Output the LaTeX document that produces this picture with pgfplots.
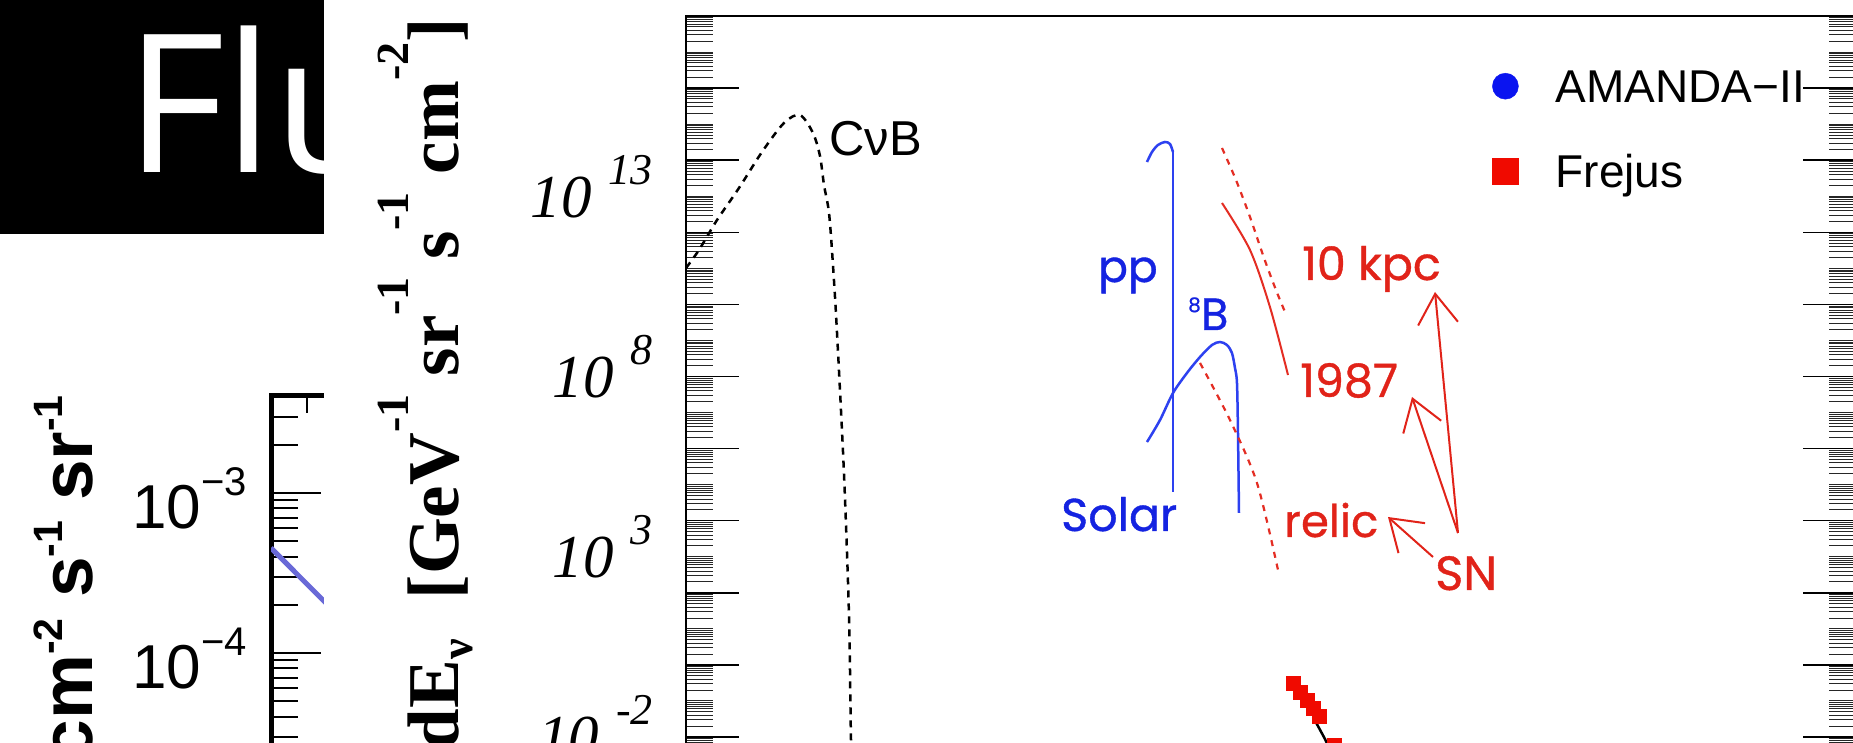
\documentclass[border=0pt]{standalone}
\usepackage{fontspec}
\setmainfont{Liberation Serif}
\newfontfamily\arialf{Liberation Sans}
\newfontfamily\avantf{Poppins}[FakeBold=0.8]
\newfontfamily\openf{Open Sans}
\usepackage{pgfplots}
\pgfplotsset{compat=1.18}
\usetikzlibrary{arrows.meta}

\definecolor{sbblue}{RGB}{105,105,215}
\definecolor{txtblue}{RGB}{20,35,225}
\definecolor{lnblue}{RGB}{45,65,240}
\definecolor{txtred}{RGB}{225,35,25}
\definecolor{lnred}{RGB}{228,45,35}
\definecolor{ptred}{RGB}{240,10,0}
\definecolor{ptblue}{RGB}{10,20,240}

% minor tick lists (ticks only, not data)
\def\mainminor{1e-4}
\foreach \e in {-4,...,18}{\foreach \m in {2,...,9}{\xdef\mainminor{\mainminor,\m e\e}}\xdef\mainminor{\mainminor,1e\e}}
\def\smallminor{1e-6}
\foreach \e in {-6,...,-3}{\foreach \m in {2,...,9}{\xdef\smallminor{\smallminor,\m e\e}}}

\pgfplotsset{bigmarkimg/.style={legend image code/.code={\path (0pt,0pt) (63pt,0pt); \draw[##1, mark size=13pt] plot coordinates {(13pt,3.5pt)};}}}

\newcommand\mlab[1]{{\fontsize{61}{61}\selectfont\itshape 10\hspace{17pt}\raisebox{33pt}{\fontsize{44}{44}\selectfont #1}}}
\newcommand\slab[1]{{\arialf\fontsize{62}{62}\selectfont 10\raisebox{33pt}{\fontsize{40}{40}\selectfont #1}}}
\newcommand\lsup[1]{\raisebox{50pt}{\fontsize{46}{46}\selectfont #1}}
\newcommand\ssup[1]{\raisebox{30pt}{\fontsize{41}{41}\selectfont #1}}

\begin{document}
\begin{tikzpicture}[x=1pt,y=1pt]
\path[use as bounding box] (0pt,0pt) rectangle (1853pt,743pt);
\clip (0pt,0pt) rectangle (1853pt,743pt);

% ---------- small plot behind ----------
\begin{axis}[
  at={(271pt,-230pt)}, anchor=south west, scale only axis,
  width=700pt, height=577.5pt,
  xmode=log, ymode=log,
  xmin=436.5, xmax=4.365e9, ymin=1e-6, ymax=4.064e-3,
  xtick=\empty, extra x ticks={1000}, extra x tick labels={},
  extra x tick style={major tick length=18pt},
  ytick={1e-6,1e-5,1e-4,1e-3},
  yticklabels={\slab{−6},\slab{−5},\slab{−4},\slab{−3}},
  minor ytick/.expanded={\smallminor},
  tick align=inside, major tick length=50pt, minor tick length=27pt,
  major tick style={line width=2pt,black},
  minor tick style={line width=2pt,black},
  axis line style={line width=5pt},
  yticklabel style={anchor=base east, inner sep=0pt, xshift=-24pt, yshift=-36pt},
]
\addplot[sbblue, line width=5pt] coordinates {(436.5,4.53e-4)(1445,2.14e-4)(8511,7.08e-5)};
\end{axis}
\node[rotate=90, anchor=base east, inner sep=0pt] at (92pt,348pt)
  {\arialf\bfseries\fontsize{73}{73}\selectfont GeV cm\ssup{-2} s\ssup{-1} sr\ssup{-1}};

% ---------- black title band ----------
\fill[black] (0pt,509pt) rectangle (324pt,743pt);
\node[anchor=base west, inner sep=0pt, text=white] at (125pt,570pt)
  {\openf\fontsize{193}{193}\selectfont Flu};

% ---------- main panel ----------
\fill[white] (324pt,0pt) rectangle (1853pt,743pt);
\node[rotate=90, anchor=base east, inner sep=0pt] at (458pt,725pt)
  {\fontsize{73}{73}\selectfont\bfseries dN/dE\raisebox{-14pt}{\fontsize{46}{46}\selectfont ν}\hspace{22pt} [GeV\lsup{-1} sr\lsup{-1} s\lsup{-1} cm\lsup{-2}]};

\begin{axis}[
  at={(686pt,-66.1pt)}, anchor=south west, scale only axis,
  width=1170pt, height=793.1pt,
  xmode=log, ymode=log,
  xmin=1e-14, xmax=3.9e12, ymin=1e-4, ymax=1e18,
  xtick=\empty,
  ytick={1e-4,1e-2,1,1e2,1e4,1e6,1e8,1e10,1e12,1e14,1e16,1e18},
  yticklabels={},
  minor ytick/.expanded={\mainminor},
  extra y ticks={1e-2,1e3,1e8,1e13},
  extra y tick labels={\mlab{-2},\mlab{3},\mlab{8},\mlab{13}},
  extra y tick style={major tick length=0pt},
  yticklabel style={anchor=base east, inner sep=0pt, xshift=-33pt, yshift=-21pt},
  tick align=inside, major tick length=53pt, minor tick length=27pt,
  major tick style={line width=1.5pt, black},
  minor tick style={line width=0.9pt, black!85},
  axis line style={line width=2.2pt},
  legend style={at={(0.6889,0.9357)}, anchor=north west, draw=none, fill=none,
    inner sep=0pt, font=\arialf\fontsize{46}{46}\selectfont, row sep=40pt,
    nodes={inner sep=0pt, text height=35pt, text depth=10pt}},
  legend cell align=left,
]
% atmospheric line
\addplot[black, line width=2.5pt, forget plot] coordinates {(1.78,3.59e-2)(3.33,8.81e-3)(7.31,1e-3)};
% AMANDA-II (below the visible part)
\addplot[only marks, mark=*, mark size=7pt, color=ptblue, bigmarkimg]
  coordinates {(1.6e3,2e-8)(1e4,1e-10)(1e5,1e-13)};
\addlegendentry{AMANDA−II}
% Frejus
\addplot[only marks, mark=square*, mark size=7pt, color=ptred, bigmarkimg]
  coordinates {(0.624,0.315)(0.902,0.177)(1.30,0.106)(1.78,6.37e-2)(2.43,3.83e-2)(5.33,6.0e-3)};
\addlegendentry{Frejus}
% CvB
\addplot[black, line width=2.5pt, dash pattern=on 7pt off 6pt, smooth, tension=0.5] coordinates {
 (1e-14,1.02e11)(1.97e-14,3.23e11)(5.07e-14,2.19e12)(1.60e-13,1.69e13)(5.33e-13,1.69e14)
 (1.69e-12,1.08e15)(3.90e-12,1.79e15)(7.69e-12,5.69e14)(1.11e-11,1.31e14)(1.37e-11,2.05e13)
 (1.78e-11,3.43e12)(2.19e-11,1.24e11)(2.70e-11,1.71e9)(3.90e-11,1.97e5)(5.07e-11,22.7)
 (5.62e-11,8.81e-3)(6.24e-11,1.79e-4)};
% solar pp
\addplot[lnblue, line width=2.5pt, smooth] coordinates {
 (3.00e-4,8.91e13)(3.90e-4,1.69e14)(5.33e-4,2.64e14)(7.69e-4,3.20e14)(1e-3,2.81e14)(1.17e-3,1.69e14)};
\addplot[lnblue, line width=2.5pt] coordinates {(1.17e-3,1.69e14)(1.17e-3,6.25e4)};
% solar 8B
\addplot[lnblue, line width=2.5pt, smooth] coordinates {
 (3.00e-4,1.52e6)(5.93e-4,6.21e6)(1.17e-3,3.48e7)(2.43e-3,1.25e8)(4.81e-3,3.48e8)
 (9.01e-3,7.48e8)(1.37e-2,9.06e8)(1.97e-2,7.48e8)(2.56e-2,4.49e8)(3.00e-2,1.72e8)
 (3.33e-2,6.61e7)(3.51e-2,2.71e6)(3.70e-2,1.64e4)};
% SN 10 kpc (dotted)
\addplot[lnred, line width=2.2pt, dash pattern=on 6pt off 6pt, smooth] coordinates {
 (1.52e-2,2.18e14)(3.16e-2,2.82e13)(6.58e-2,2.66e12)(0.137,1.94e11)(0.256,2.51e10)(0.411,6.15e9)};
% SN 1987
\addplot[lnred, line width=2pt, smooth] coordinates {
 (1.52e-2,6.50e12)(6.58e-2,3.23e11)(0.187,8.47e9)(0.481,1.10e8)};
% relic SN (dotted)
\addplot[lnred, line width=2.2pt, dash pattern=on 6pt off 6pt, smooth] coordinates {
 (4.81e-3,2.37e8)(2.31e-2,6.21e6)(9.49e-2,1.11e5)(0.285,429)};
\end{axis}

% ---------- annotations ----------
\node[anchor=base west, inner sep=0pt] at (829pt,587pt) {\arialf\fontsize{49}{49}\selectfont CνB};
\node[anchor=base west, inner sep=0pt, text=txtblue] at (1098pt,461pt) {\avantf\fontsize{44}{44}\selectfont pp};
\node[anchor=base west, inner sep=0pt, text=txtblue] at (1188pt,413pt) {\avantf\fontsize{45}{45}\selectfont\raisebox{18pt}{\fontsize{20}{20}\selectfont 8}B};
\node[anchor=base west, inner sep=0pt, text=txtblue] at (1061pt,212pt) {\avantf\fontsize{46}{46}\selectfont Solar};
\begin{scope}[every node/.style={anchor=base west, inner sep=0pt, text=txtred}]
\node at (1302pt,463pt) {\avantf\fontsize{46}{46}\selectfont 10 kpc};
\node at (1300pt,346pt) {\avantf\fontsize{46}{46}\selectfont 1987};
\node at (1284pt,206pt) {\avantf\fontsize{45}{45}\selectfont relic};
\node at (1435pt,153pt) {\avantf\fontsize{48}{48}\selectfont SN};
\end{scope}
\begin{scope}[txtred, line width=2pt, -{Straight Barb[length=30pt,width=40pt]}]
\draw (1458pt,210pt) -- (1435pt,451pt);
\draw (1458pt,210pt) -- (1412pt,346pt);
\draw (1433pt,186pt) -- (1388pt,226pt);
\end{scope}
\end{tikzpicture}
\end{document}
